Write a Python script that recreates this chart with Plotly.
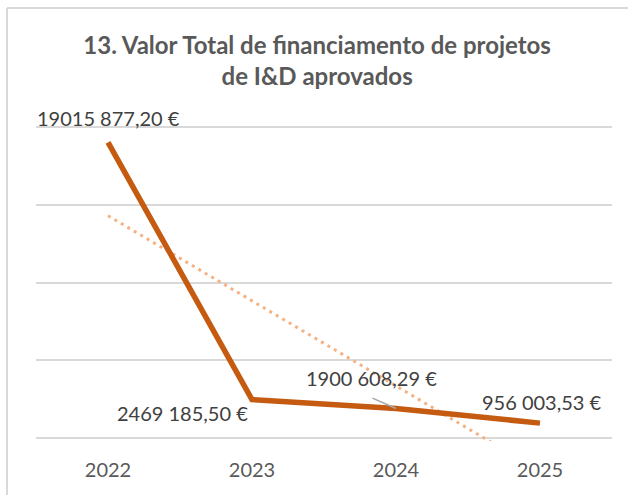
import numpy as np
import plotly.graph_objects as go

categories = ["2022", "2023", "2024", "2025"]
values = [19015877.20, 2469185.50, 1900608.29, 956003.53]
labels = ["19015 877,20 €", "2469 185,50 €", "1900 608,29 €", "956 003,53 €"]
title = "13. Valor Total de financiamento de projetos<br>de I&D aprovados"

xs = np.arange(len(categories))
# linear trendline (as in the spreadsheet chart)
coef = np.polyfit(xs + 1, values, 1)
trend = np.polyval(coef, xs + 1)

FONT = "Lato, Carlito, Calibri, sans-serif"
LFS = 20

fig = go.Figure()
fig.add_trace(go.Scatter(x=xs, y=trend, mode="lines",
                         line=dict(color="#F4B183", width=3, dash="3px,4.5px"),
                         hoverinfo="skip", showlegend=False))
fig.add_trace(go.Scatter(x=xs, y=values, mode="lines",
                         line=dict(color="#C55A11", width=5.5),
                         showlegend=False))

ann_shift = [dict(xshift=0, yshift=24), dict(xshift=-69, yshift=-13),
             dict(xshift=-24, yshift=30), dict(xshift=2, yshift=21)]
for i, (v, lab) in enumerate(zip(values, labels)):
    fig.add_annotation(x=xs[i], y=v, text=lab, showarrow=False,
                       font=dict(family=FONT, size=LFS, color="#404040"), **ann_shift[i])
# leader line for the 2024 label
fig.add_annotation(x=xs[2], y=values[2], text="", showarrow=True, arrowhead=0,
                   arrowwidth=1.5, arrowcolor="#A6A6A6", ax=-25, ay=-11, standoff=0)

# chart border (left and top)
fig.add_shape(type="line", xref="paper", yref="paper", x0=0, x1=0, y0=1, y1=0,
              line=dict(color="#D9D9D9", width=2))
fig.add_shape(type="line", xref="paper", yref="paper", x0=0, x1=1, y0=1, y1=1,
              line=dict(color="#D9D9D9", width=2))

fig.update_layout(
    width=628, height=495,
    margin=dict(l=7, r=0, t=8, b=0, autoexpand=False),
    paper_bgcolor="white", plot_bgcolor="white",
    title=dict(text=title, x=0.505, xanchor="center", y=0.8906, yanchor="top",
               font=dict(family=FONT, size=24, color="#595959", weight="bold")),
    xaxis=dict(tickmode="array", tickvals=xs, ticktext=categories, range=[-0.5, 3.5],
               domain=[0.0467, 0.9742],
               showgrid=False, zeroline=False, showline=False, ticks="", ticklabelstandoff=15,
               tickfont=dict(family=FONT, size=LFS, color="#595959")),
    yaxis=dict(range=[-200000, 20200000], tickvals=[0, 5e6, 1e7, 1.5e7, 2e7], showticklabels=False,
               domain=[0.11066, 0.76203],
               showgrid=True, gridcolor="#D9D9D9", gridwidth=2, zeroline=False, showline=False),
)
fig.write_html("out.html", post_script="document.body.style.margin='0';",
               config={"displayModeBar": False})
